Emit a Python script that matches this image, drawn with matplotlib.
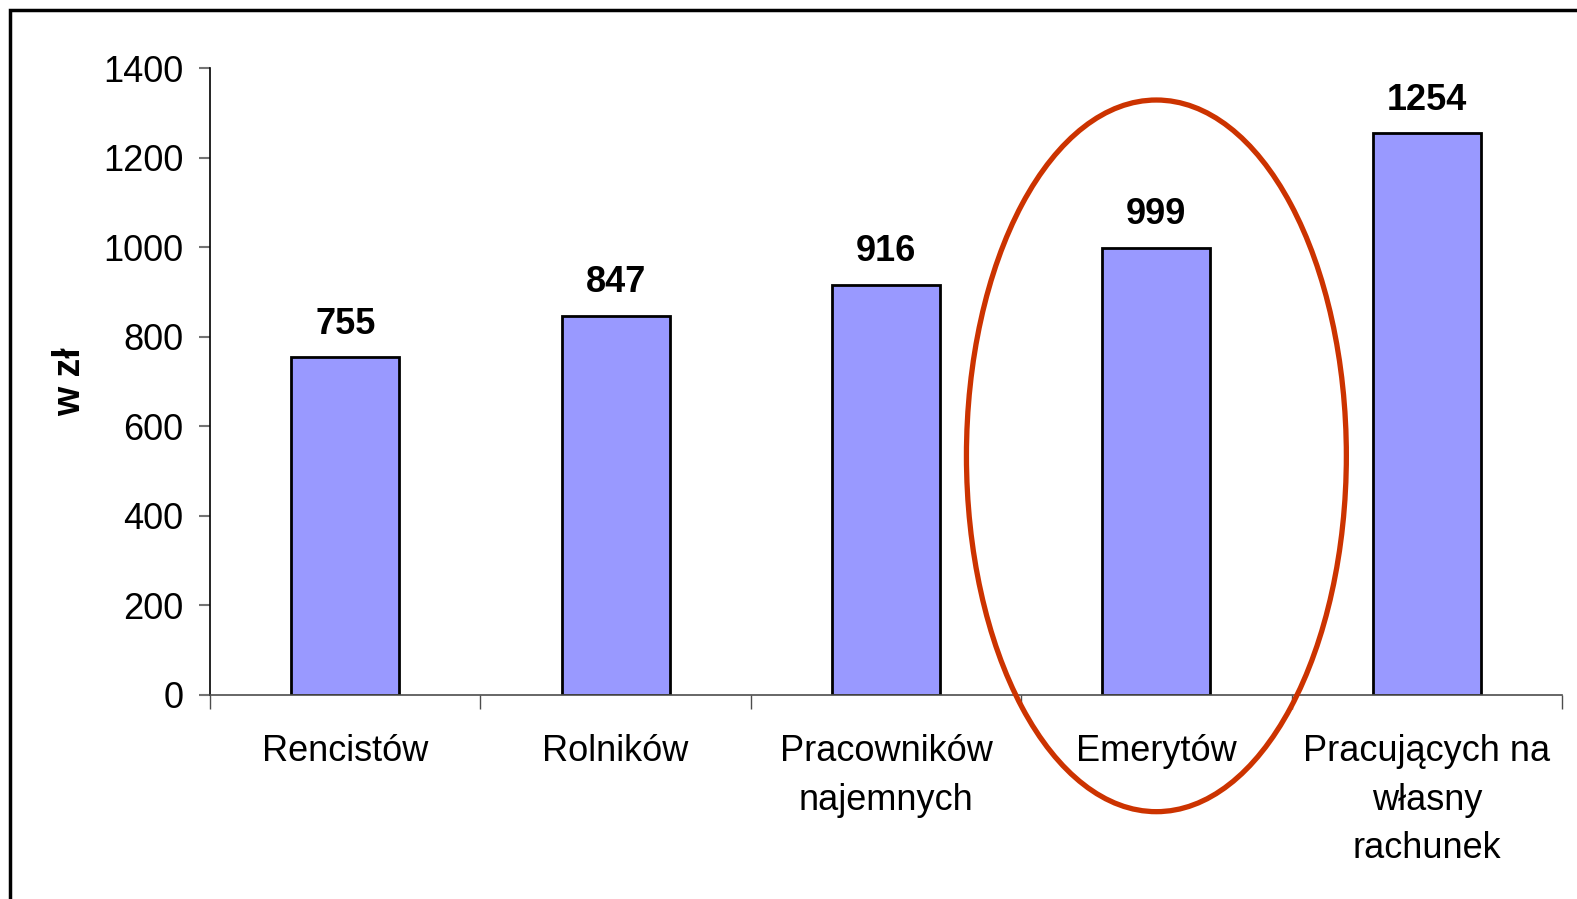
import numpy as np
import matplotlib.pyplot as plt
from matplotlib.patches import Ellipse, Rectangle

plt.rcParams['font.family'] = ['Liberation Sans', 'DejaVu Sans']

# Data
categories = ["Rencistów", "Rolników", "Pracowników\nnajemnych", "Emerytów",
              "Pracujących na\nwłasny\nrachunek"]
values = [755, 847, 916, 999, 1254]
yticks = [0, 200, 400, 600, 800, 1000, 1200, 1400]


def main():
    W, H = 1577, 899
    fig = plt.figure(figsize=(W / 100, H / 100), dpi=100)
    ax = fig.add_axes([210 / W, 1 - 695 / H, (1562 - 210) / W, (695 - 68) / H])

    x = np.arange(len(categories))
    ax.bar(x, values, width=0.40, color="#9999FF", edgecolor="black", linewidth=2, zorder=2)

    # Value labels
    for xi, v in zip(x, values):
        ax.annotate(str(v), xy=(xi, v), xytext=(0, 11), textcoords="offset points",
                    ha="center", va="bottom", fontsize=26, fontweight="bold")

    ax.set_xlim(-0.5, len(categories) - 0.5)
    ax.set_ylim(0, 1400)
    ax.set_yticks(yticks)
    ax.set_yticklabels([str(t) for t in yticks], fontsize=26)

    # Category ticks sit at boundaries; labels at centres
    ax.set_xticks(np.arange(len(categories) + 1) - 0.5)
    ax.set_xticklabels([])
    ax.tick_params(axis="x", direction="out", length=10, width=1, color="0.3")
    ax.tick_params(axis="y", direction="out", length=8, width=1.5, color="0.45", pad=11)
    for xi, c in zip(x, categories):
        ax.text(xi, -88, c, ha="center", va="top", fontsize=26, linespacing=1.5)

    for s in ["top", "right"]:
        ax.spines[s].set_visible(False)
    ax.spines["left"].set_linewidth(1.2)
    ax.spines["bottom"].set_linewidth(1.2)
    ax.spines["bottom"].set_color("0.3")

    ax.set_ylabel("w zł", fontsize=27, fontweight="bold", labelpad=11)

    # Highlight ellipse around "Emerytów"
    ell = Ellipse((3, 534), width=1.405, height=1589, fill=False, edgecolor="#CC3300",
                  linewidth=3.8, clip_on=False, zorder=3)
    ax.add_patch(ell)

    # Outer frame (extends past the right/bottom edges)
    frame = Rectangle((9.5 / W, -0.05), 1.1, 1 - 9.5 / H + 0.05, transform=fig.transFigure,
                      fill=False, edgecolor="black", linewidth=2.5, clip_on=False)
    fig.patches.append(frame)

    fig.savefig("out.png", dpi=100)


if __name__ == "__main__":
    main()
